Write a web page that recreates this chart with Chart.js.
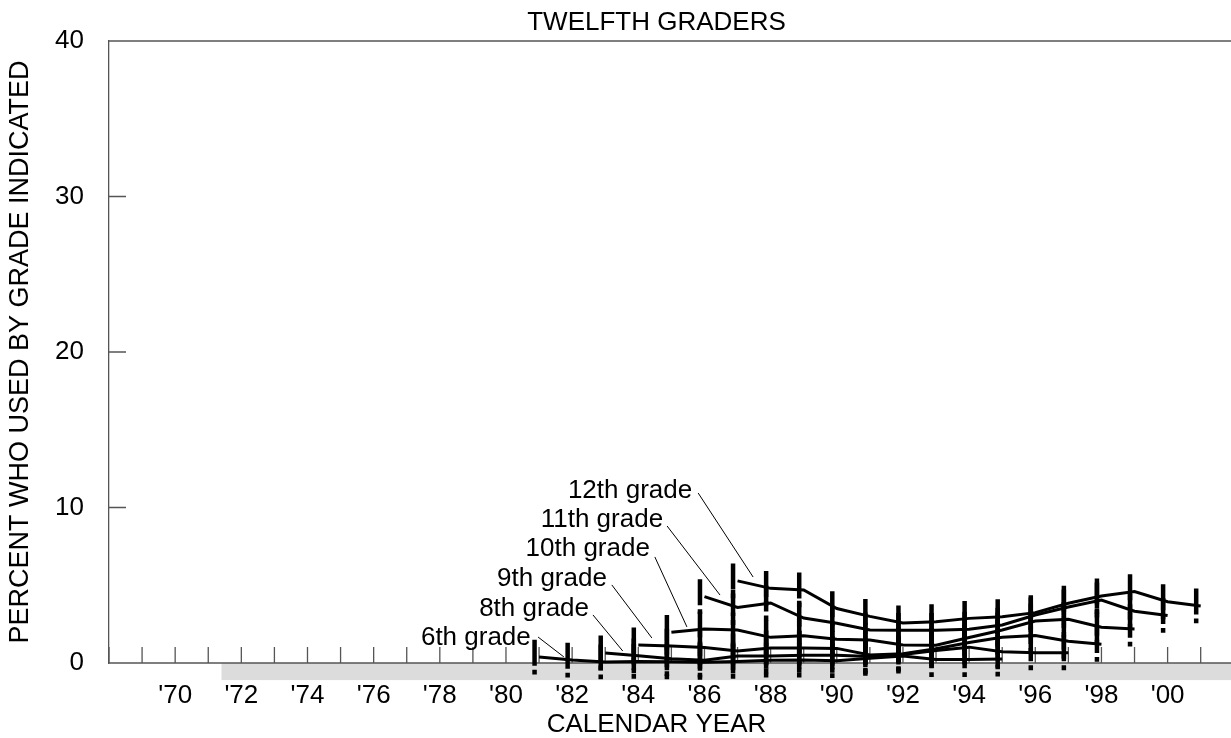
<!DOCTYPE html>
<html>
<head>
<meta charset="utf-8">
<script src="https://cdn.jsdelivr.net/npm/chart.js@4.4.1/dist/chart.umd.min.js"></script>
<style>
  html, body { margin: 0; padding: 0; background: #fff; }
  #wrap { width: 1231px; height: 738px; }
</style>
</head>
<body>
<div id="wrap"><canvas id="chart" width="1231" height="738"></canvas></div>
<script>
// Calendar years covered by the cohort lines
const years = [1981, 1982, 1983, 1984, 1985, 1986, 1987, 1988, 1989, 1990, 1991,
               1992, 1993, 1994, 1995, 1996, 1997, 1998, 1999, 2000, 2001];

// Percent who used, by grade indicated (null = no point that year)
const grade6  = [0.38, 0.19, 0.07, 0.10, 0.08, 0.05, 0.10, 0.18, 0.19, 0.15, 0.30,
                 0.45, 0.22, 0.22, 0.25, null, null, null, null, null, null];
const grade8  = [null, null, 0.65, 0.46, 0.28, 0.18, 0.45, 0.45, 0.50, 0.50, 0.42,
                 0.55, 0.80, 1.02, 0.72, 0.66, 0.66, null, null, null, null];
const grade9  = [null, null, null, 1.16, 1.09, 0.99, 0.77, 0.97, 0.96, 0.94, 0.51,
                 0.60, 0.92, 1.32, 1.65, 1.77, 1.40, 1.20, null, null, null];
const grade10 = [null, null, null, null, 1.97, 2.19, 2.12, 1.65, 1.75, 1.52, 1.48,
                 1.16, 1.14, 1.64, 2.12, 2.70, 2.81, 2.30, 2.18, null, null];
const grade11 = [null, null, null, null, null, 4.27, 3.57, 3.86, 2.89, 2.55, 2.12,
                 2.10, 2.10, 2.17, 2.44, 3.09, 3.60, 4.05, 3.33, 3.06, null];
const grade12 = [null, null, null, null, null, null, 5.28, 4.80, 4.70, 3.50, 3.00,
                 2.58, 2.66, 2.87, 2.98, 3.24, 3.84, 4.31, 4.59, 3.94, 3.67];

// Half-length of the vertical bar drawn at each point (percent)
const ERR = 1.12;

// Axis ticks
const tickYears = [1968, 1969, 1970, 1971, 1972, 1973, 1974, 1975, 1976, 1977, 1978,
                   1979, 1980, 1981, 1982, 1983, 1984, 1985, 1986, 1987, 1988, 1989,
                   1990, 1991, 1992, 1993, 1994, 1995, 1996, 1997, 1998, 1999, 2000, 2001];
const labelYears = [1970, 1972, 1974, 1976, 1978, 1980, 1982, 1984, 1986, 1988, 1990,
                    1992, 1994, 1996, 1998, 2000];
const yTicks = [0, 10, 20, 30, 40];

// Line labels with leader lines (x in years, y in percent)
const labelText   = ['12th grade', '11th grade', '10th grade', '9th grade', '8th grade', '6th grade'];
const labelRightX = [1985.63, 1984.75, 1984.35, 1983.05, 1982.51, 1980.75];
const labelMidY   = [11.06, 9.20, 7.33, 5.40, 3.47, 1.61];
const leaderFrom  = [[1985.81, 10.93], [1984.87, 8.81], [1984.50, 6.82], [1983.20, 5.02], [1982.63, 3.09], [1980.97, 1.67]];
const leaderTo    = [[1987.47, 5.53], [1986.47, 4.37], [1985.47, 2.32], [1984.41, 1.61], [1983.53, 0.77], [1981.75, 0.39]];

// Shaded strip under the baseline
const bandStartYear = 1971.4;
const bandDepth = 1.1;

const FONT = 'Arial, "Liberation Sans", sans-serif';
const AXIS_COLOR = '#555';

const toPoints = vals => years.map((yr, i) => ({ x: yr, y: vals[i] })).filter(p => p.y !== null);
const series = [grade12, grade11, grade10, grade9, grade8, grade6];

const decor = {
    id: 'decor',
    beforeDatasetsDraw(chart) {
        const { ctx, chartArea } = chart;
        const xs = chart.scales.x, ys = chart.scales.y;
        const y0 = ys.getPixelForValue(0);
        ctx.save();
        // gray strip
        ctx.fillStyle = '#dcdcdc';
        const bx = xs.getPixelForValue(bandStartYear);
        ctx.fillRect(bx, y0, chart.width - bx, ys.getPixelForValue(-bandDepth) - y0);
        ctx.strokeStyle = AXIS_COLOR;
        ctx.lineWidth = 1.3;
        ctx.beginPath();
        // top border and baseline
        ctx.moveTo(chartArea.left, chartArea.top);
        ctx.lineTo(chart.width, chartArea.top);
        ctx.moveTo(chartArea.left, y0);
        ctx.lineTo(chart.width, y0);
        // year ticks, pointing up
        xs.ticks.forEach(t => {
            const px = xs.getPixelForValue(t.value);
            ctx.moveTo(px, y0);
            ctx.lineTo(px, y0 - 16);
        });
        // percent ticks, pointing in
        yTicks.forEach(v => {
            const py = ys.getPixelForValue(v);
            ctx.moveTo(chartArea.left, py);
            ctx.lineTo(chartArea.left + 17, py);
        });
        ctx.stroke();
        ctx.restore();
    },
    afterDatasetsDraw(chart) {
        const { ctx } = chart;
        const xs = chart.scales.x, ys = chart.scales.y;
        ctx.save();
        // thick dashed bars at every point
        ctx.strokeStyle = '#000';
        ctx.lineWidth = 4.5;
        ctx.lineCap = 'butt';
        ctx.setLineDash([26, 4, 5, 200]);
        series.forEach(vals => {
            years.forEach((yr, i) => {
                if (vals[i] === null) return;
                const px = xs.getPixelForValue(yr) - 4.5;
                ctx.beginPath();
                ctx.moveTo(px, ys.getPixelForValue(vals[i] + ERR));
                ctx.lineTo(px, ys.getPixelForValue(vals[i] - ERR));
                ctx.stroke();
            });
        });
        ctx.setLineDash([]);
        // labels and leader lines
        ctx.lineWidth = 1;
        ctx.fillStyle = '#000';
        ctx.font = '26px ' + FONT;
        ctx.textAlign = 'right';
        ctx.textBaseline = 'middle';
        labelText.forEach((txt, i) => {
            ctx.fillText(txt, xs.getPixelForValue(labelRightX[i]), ys.getPixelForValue(labelMidY[i]));
            ctx.beginPath();
            ctx.moveTo(xs.getPixelForValue(leaderFrom[i][0]), ys.getPixelForValue(leaderFrom[i][1]));
            ctx.lineTo(xs.getPixelForValue(leaderTo[i][0]), ys.getPixelForValue(leaderTo[i][1]));
            ctx.stroke();
        });
        ctx.restore();
    }
};

document.addEventListener('DOMContentLoaded', () => {
    const ctx = document.getElementById('chart').getContext('2d');
    new Chart(ctx, {
        type: 'line',
        data: {
            datasets: series.map((vals, i) => ({
                label: labelText[i],
                data: toPoints(vals),
                borderColor: '#000',
                borderWidth: 3,
                pointRadius: 0,
                tension: 0,
                fill: false,
                clip: false
            }))
        },
        options: {
            responsive: false,
            animation: false,
            layout: { padding: { left: 0, right: 27, top: 0, bottom: 0 } },
            plugins: {
                legend: { display: false },
                tooltip: { enabled: false },
                title: {
                    display: true,
                    text: 'TWELFTH GRADERS',
                    fullSize: false,
                    color: '#000',
                    font: { family: FONT, size: 26, weight: 'normal', lineHeight: 1 },
                    padding: { top: 9.5, bottom: 5.5 }
                }
            },
            scales: {
                x: {
                    type: 'linear',
                    min: 1968,
                    max: 2001.1,
                    afterBuildTicks: s => { s.ticks = tickYears.map(v => ({ value: v })); },
                    afterFit: s => { s.height = 75; },
                    grid: { display: false, drawTicks: false },
                    border: { display: false },
                    ticks: {
                        autoSkip: false,
                        maxRotation: 0,
                        minRotation: 0,
                        padding: 17,
                        color: '#000',
                        font: { family: FONT, size: 26 },
                        callback: v => labelYears.includes(v) ? "'" + String(v).slice(2) : ''
                    },
                    title: {
                        display: true,
                        text: 'CALENDAR YEAR',
                        color: '#000',
                        font: { family: FONT, size: 26, lineHeight: 1 },
                        padding: { top: 0, bottom: 0 }
                    }
                },
                y: {
                    min: 0,
                    max: 40,
                    afterBuildTicks: s => { s.ticks = yTicks.map(v => ({ value: v })); },
                    afterFit: s => { s.width = 109; },
                    grid: { display: false, drawTicks: false },
                    border: { display: true, color: AXIS_COLOR, width: 1.3 },
                    ticks: {
                        padding: 25,
                        color: '#000',
                        font: { family: FONT, size: 26 }
                    },
                    title: {
                        display: true,
                        text: 'PERCENT WHO USED BY GRADE INDICATED',
                        color: '#000',
                        font: { family: FONT, size: 27, lineHeight: 1 },
                        padding: { top: 7, bottom: 0 }
                    }
                }
            }
        },
        plugins: [decor]
    });
});
</script>
</body>
</html>
